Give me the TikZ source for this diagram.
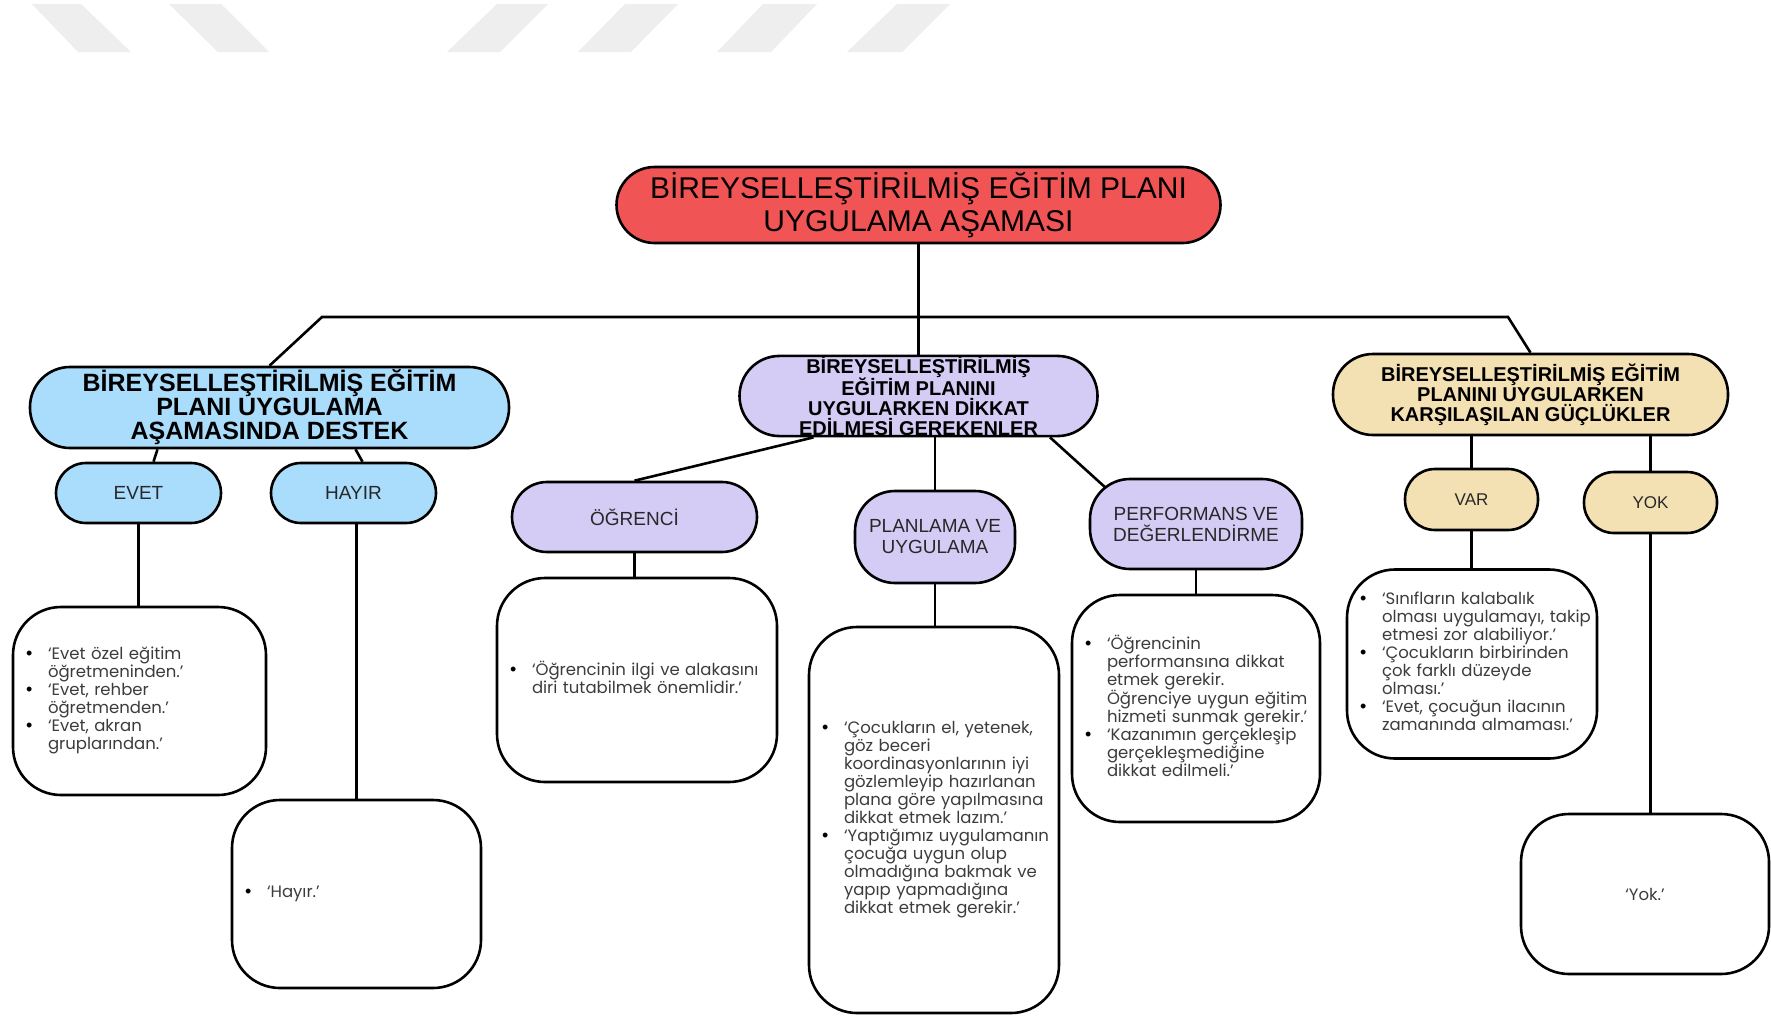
\documentclass[tikz,border=0pt]{standalone}
\usepackage{fontspec}
\setmainfont{Liberation Sans}
\newfontfamily\leaffont{Poppins}
\usetikzlibrary{calc,backgrounds}
\definecolor{titlered}{RGB}{241,84,84}
\definecolor{hblue}{RGB}{170,220,251}
\definecolor{hlav}{RGB}{213,204,245}
\definecolor{htan}{RGB}{243,224,179}
\definecolor{stripegray}{RGB}{238,238,238}
\definecolor{leaftext}{RGB}{60,60,60}
\definecolor{labeltext}{RGB}{40,40,40}
\newcommand{\bul}{\makebox[22pt][l]{\textcolor{black}{\rmfamily\fontsize{18}{18}\selectfont •}}}
\begin{document}
\begin{tikzpicture}[x=1pt,y=-1pt,
  hdr/.style={draw=black, line width=2.6pt, align=center, inner sep=0pt, text=black},
  sub/.style={hdr, text=labeltext},
  conn/.style={line width=2.6pt, draw=black},
  leaf/.style={draw=black, line width=2.6pt, fill=white, rounded corners=48pt,
    inner xsep=13pt, inner ysep=0pt, align=left, text=leaftext,
    font=\leaffont\fontsize{16.5}{18}\selectfont},
  stripe/.style={fill=stripegray, draw=none}
]
\useasboundingbox (0,0) rectangle (1771,1015);

% header nodes
\node[hdr, fill=titlered, rounded corners=38pt, minimum width=604pt, minimum height=76pt,
  font=\fontsize{30}{33}\selectfont] (title) at (918.5,205)
  {BİREYSELLEŞTİRİLMİŞ EĞİTİM PLANI\\UYGULAMA AŞAMASI};
\node[hdr, fill=hblue, rounded corners=40pt, minimum width=479pt, minimum height=81pt,
  font=\bfseries\fontsize{25}{24}\selectfont] (lnode) at (269.5,407.5)
  {BİREYSELLEŞTİRİLMİŞ EĞİTİM\\PLANI UYGULAMA\\AŞAMASINDA DESTEK};
\node[hdr, fill=hlav, rounded corners=40pt, minimum width=358pt, minimum height=80pt,
  font=\bfseries\fontsize{20}{20}\selectfont] (mid) at (918.5,396)
  {BİREYSELLEŞTİRİLMİŞ\\EĞİTİM PLANINI\\UYGULARKEN DİKKAT\\EDİLMESİ GEREKENLER};
\node[hdr, fill=htan, rounded corners=40pt, minimum width=395pt, minimum height=81pt,
  font=\bfseries\fontsize{20}{20}\selectfont] (rnode) at (1530.5,394.5)
  {BİREYSELLEŞTİRİLMİŞ EĞİTİM\\PLANINI UYGULARKEN\\KARŞILAŞILAN GÜÇLÜKLER};

% sub nodes
\node[sub, fill=hblue, rounded corners=30pt, minimum width=165pt, minimum height=60pt,
  font=\fontsize{19}{21}\selectfont] (evet) at (138.5,493) {EVET};
\node[sub, fill=hblue, rounded corners=30pt, minimum width=165pt, minimum height=60pt,
  font=\fontsize{19}{21}\selectfont] (hayir) at (353.5,493) {HAYIR};
\node[sub, fill=hlav, rounded corners=35pt, minimum width=245pt, minimum height=70pt,
  font=\fontsize{19}{21}\selectfont] (ogr) at (634.5,517) {ÖĞRENCİ};
\node[sub, fill=hlav, rounded corners=40pt, minimum width=160pt, minimum height=92pt,
  font=\fontsize{19}{21}\selectfont] (plan) at (935,537) {PLANLAMA VE\\UYGULAMA};
\node[sub, fill=hlav, rounded corners=40pt, minimum width=212pt, minimum height=90pt,
  font=\fontsize{19}{21}\selectfont] (perf) at (1196,524) {PERFORMANS VE\\DEĞERLENDİRME};
\node[sub, fill=htan, rounded corners=30pt, minimum width=133pt, minimum height=61pt,
  font=\fontsize{17}{19}\selectfont] (var) at (1471.5,499.5) {VAR};
\node[sub, fill=htan, rounded corners=30pt, minimum width=133pt, minimum height=61pt,
  font=\fontsize{17}{19}\selectfont] (yok) at (1650.5,502.5) {YOK};

% leaves
\node[leaf, minimum width=253pt, text width=227pt, minimum height=188pt] (evetleaf) at (139.5,701)
  {\begin{tabular}{@{}l@{}l@{}}
   \bul & ‘Evet özel eğitim\\
        & öğretmeninden.’\\
   \bul & ‘Evet, rehber\\
        & öğretmenden.’\\
   \bul & ‘Evet, akran\\
        & gruplarından.’
   \end{tabular}};
\node[leaf, minimum width=249pt, text width=223pt, minimum height=188pt] (hayirleaf) at (356.5,894)
  {\begin{tabular}{@{}l@{}l@{}}
   \bul & ‘Hayır.’
   \end{tabular}};
\node[leaf, minimum width=280pt, text width=254pt, minimum height=204pt] (ogrleaf) at (637,680)
  {\begin{tabular}{@{}l@{}l@{}}
   \bul & ‘Öğrencinin ilgi ve alakasını\\
        & diri tutabilmek önemlidir.’
   \end{tabular}};
\node[leaf, minimum width=250pt, text width=224pt, minimum height=386pt] (planleaf) at (934,820)
  {\begin{tabular}{@{}l@{}l@{}}
   \bul & ‘Çocukların el, yetenek,\\
        & göz beceri\\
        & koordinasyonlarının iyi\\
        & gözlemleyip hazırlanan\\
        & plana göre yapılmasına\\
        & dikkat etmek lazım.’\\
   \bul & ‘Yaptığımız uygulamanın\\
        & çocuğa uygun olup\\
        & olmadığına bakmak ve\\
        & yapıp yapmadığına\\
        & dikkat etmek gerekir.’
   \end{tabular}};
\node[leaf, minimum width=248pt, text width=222pt, minimum height=227pt] (perfleaf) at (1196,708.5)
  {\begin{tabular}{@{}l@{}l@{}}
   \bul & ‘Öğrencinin\\
        & performansına dikkat\\
        & etmek gerekir.\\
        & Öğrenciye uygun eğitim\\
        & hizmeti sunmak gerekir.’\\
   \bul & ‘Kazanımın gerçekleşip\\
        & gerçekleşmediğine\\
        & dikkat edilmeli.’
   \end{tabular}};
\node[leaf, minimum width=250pt, text width=224pt, minimum height=189pt] (varleaf) at (1472,664)
  {\begin{tabular}{@{}l@{}l@{}}
   \bul & ‘Sınıfların kalabalık\\
        & olması uygulamayı, takip\\
        & etmesi zor alabiliyor.’\\
   \bul & ‘Çocukların birbirinden\\
        & çok farklı düzeyde\\
        & olması.’\\
   \bul & ‘Evet, çocuğun ilacının\\
        & zamanında almaması.’
   \end{tabular}};
\node[leaf, align=center, minimum width=248pt, text width=222pt, minimum height=160pt] (yokleaf) at (1645,894)
  {‘Yok.’};

\coordinate (hl) at (322,317);
\coordinate (hr) at (1508,317);

\begin{scope}[on background layer]
  \fill[white] (0,0) rectangle (1771,1015);
  \fill[stripe] (32,4) -- (81,4) -- (131,52) -- (78,52) -- cycle;
  \fill[stripe] (169,4) -- (221,4) -- (269,52) -- (218,52) -- cycle;
  \fill[stripe] (497,4) -- (548,4) -- (500,52) -- (447,52) -- cycle;
  \fill[stripe] (625,4) -- (678,4) -- (631,52) -- (578,52) -- cycle;
  \fill[stripe] (763,4) -- (817,4) -- (771,52) -- (717,52) -- cycle;
  \fill[stripe] (897,4) -- (950,4) -- (902,52) -- (847,52) -- cycle;

  \draw[conn] (title.south) -- (mid.north);
  \draw[conn] (lnode.north) -- (hl) -- (hr) -- (rnode.north);
  \draw[conn] ($(lnode.south)+(-112,0)$) -- ($(evet.north)+(15,0)$);
  \draw[conn] ($(lnode.south)+(86,0)$) -- ($(hayir.north)+(9,0)$);
  \draw[conn] ($(mid.south)+(-105,0)$) -- (ogr.north);
  \draw[conn] (mid.south -| plan.north) -- (plan.north);
  \draw[conn] ($(mid.south)+(131.5,0)$) -- ($(perf.north west)+(18,11)$);
  \draw[conn] (rnode.south -| var.north) -- (var.north);
  \draw[conn] (rnode.south -| yok.north) -- (yok.north);

  \draw[conn] (evet.south) -- (evet.south |- evetleaf.north);
  \draw[conn] (hayirleaf.north |- hayir.south) -- (hayirleaf.north);
  \draw[conn] (ogr.south) -- (ogr.south |- ogrleaf.north);
  \draw[conn] (plan.south) -- (plan.south |- planleaf.north);
  \draw[conn] (perf.south) -- (perf.south |- perfleaf.north);
  \draw[conn] (var.south) -- (var.south |- varleaf.north);
  \draw[conn] (yok.south) -- (yok.south |- yokleaf.north);
\end{scope}
\end{tikzpicture}
\end{document}
